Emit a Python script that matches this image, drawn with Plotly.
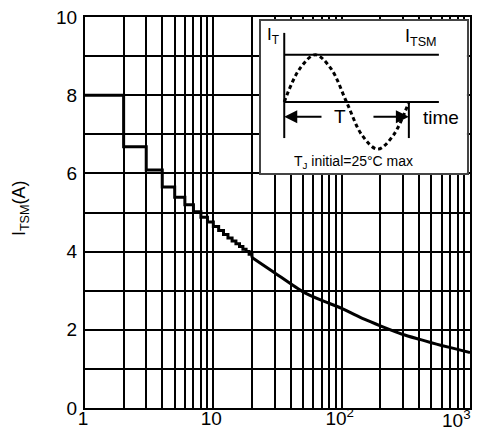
import math
import plotly.graph_objects as go

# ---- main data: surge current vs number of cycles ----
step_cycles = [1, 2, 3, 4, 5, 6, 7, 8, 9, 10, 11, 12, 13, 14, 15, 16, 17, 18, 19, 20]
step_current = [8.0, 6.68, 6.09, 5.65, 5.39, 5.2, 5.02, 4.88, 4.76, 4.64,
                4.54, 4.44, 4.35, 4.27, 4.2, 4.13, 4.06, 4.0, 3.93, 3.85]
smooth_cycles = [20, 30, 50, 70, 100, 150, 200, 300, 400, 500, 600, 800, 1000]
smooth_current = [3.85, 3.46, 2.97, 2.75, 2.55, 2.27, 2.1, 1.88, 1.76, 1.67, 1.6, 1.5, 1.42]

x_major = [1, 10, 100, 1000]
x_major_text = ["1", "10", "10<sup>2</sup>", "10<sup>3</sup>"]
x_minor = [2, 3, 4, 5, 6, 7, 8, 9, 20, 30, 40, 50, 60, 70, 80, 90,
           200, 300, 400, 500, 600, 700, 800, 900]
y_major = [0, 2, 4, 6, 8, 10]
y_major_text = ["0", "2", "4", "6", "8", "10"]
y_minor = [1, 3, 5, 7, 9]

# ---- inset schematic (units: period T = 1, amplitude = 1) ----
wave_t = [0, 0.125, 0.25, 0.375, 0.5, 0.625, 0.75, 0.875, 1.0]
wave_v = [0, 0.707, 1.0, 0.707, 0, -0.707, -1.0, -0.707, 0]

FONT = "Liberation Sans, Arial, Helvetica, sans-serif"

fig = go.Figure()
fig.add_trace(go.Scatter(x=step_cycles, y=step_current, mode="lines",
                         line=dict(color="black", width=3, shape="hv"),
                         showlegend=False, hoverinfo="skip"))
fig.add_trace(go.Scatter(x=smooth_cycles, y=smooth_current, mode="lines",
                         line=dict(color="black", width=3, shape="spline", smoothing=0.6),
                         showlegend=False, hoverinfo="skip"))
fig.add_trace(go.Scatter(x=wave_t, y=wave_v, mode="lines", xaxis="x2", yaxis="y2",
                         line=dict(color="black", width=3, dash="4px,3px", shape="spline"),
                         showlegend=False, hoverinfo="skip"))

ln = dict(color="black", width=2)
shapes = [
    dict(type="line", xref="x2", yref="y2", x0=0, x1=0, y0=1.465, y1=-0.765, line=ln),
    dict(type="line", xref="x2", yref="y2", x0=0, x1=1.241, y0=1, y1=1, line=ln),
    dict(type="line", xref="x2", yref="y2", x0=0, x1=1.241, y0=0, y1=0, line=ln),
    dict(type="line", xref="x2", yref="y2", x0=1, x1=1, y0=0, y1=-0.765, line=ln),
]


def label(text, x, y, size, ref="x2", **kw):
    return dict(text=text, xref=ref, yref=ref.replace("x", "y"), x=x, y=y,
                xanchor="center", yanchor="middle", showarrow=False,
                font=dict(size=size, color="black", family=FONT), **kw)


annotations = [
    dict(text="I<sub>TSM</sub>(A)", xref="paper", yref="paper", x=-0.1675, y=0.51,
         xanchor="center", yanchor="middle", textangle=-90, showarrow=False,
         font=dict(size=18, color="black", family=FONT)),
    # last x-axis label placed right-aligned so it stays inside the window
    dict(text=x_major_text[-1], xref="x", yref="paper", x=math.log10(x_major[-1]), y=0,
         xanchor="right", yanchor="middle", xshift=3, yshift=-11, showarrow=False,
         font=dict(size=19, color="black", family=FONT)),
    label("I<sub>T</sub>", -0.091, 1.40, 17),
    label("I<sub>TSM</sub>", 1.098, 1.36, 18),
    label("T", 0.446, -0.313, 19),
    label("time", 1.258, -0.339, 19),
    label("T<sub>J</sub> initial=25°C max", 0.559, -1.268, 14),
    dict(text="", xref="x2", yref="y2", axref="x2", ayref="y2", x=0, y=-0.313,
         ax=0.311, ay=-0.313, showarrow=True, arrowhead=2, arrowsize=1.3,
         arrowwidth=2, arrowcolor="black", standoff=0),
    dict(text="", xref="x2", yref="y2", axref="x2", ayref="y2", x=1, y=-0.313,
         ax=0.704, ay=-0.313, showarrow=True, arrowhead=2, arrowsize=1.3,
         arrowwidth=2, arrowcolor="black", standoff=0),
]

grid_minor = dict(showgrid=True, gridcolor="black", gridwidth=2, ticks="")

fig.update_layout(
    width=483, height=430,
    margin=dict(l=77, r=21, t=9, b=30),
    paper_bgcolor="white", plot_bgcolor="white",
    font=dict(family=FONT, size=19, color="black"),
    xaxis=dict(type="log", range=[0, 3], tickmode="array", tickvals=x_major[:-1],
               ticktext=x_major_text[:-1], automargin=False, ticklabeloverflow="allow",
               ticklabelstandoff=-8, ticklabelshift=-2,
               showgrid=True, gridcolor="black", gridwidth=2,
               minor=dict(tickmode="array", tickvals=x_minor, **grid_minor),
               showline=True, linecolor="black", linewidth=2, mirror=True,
               ticks="", tickfont=dict(size=19), zeroline=False),
    yaxis=dict(range=[0, 10], tickmode="array", tickvals=y_major,
               ticktext=y_major_text, automargin=False, ticklabeloverflow="allow",
               ticklabelstandoff=2,
               showgrid=True, gridcolor="black", gridwidth=2,
               minor=dict(tickmode="array", tickvals=y_minor, **grid_minor),
               showline=True, linecolor="black", linewidth=2, mirror=True,
               ticks="", tickfont=dict(size=19), zeroline=False),
    xaxis2=dict(domain=[0.457, 0.992], anchor="y2", range=[-0.187, 1.466],
                showgrid=False, zeroline=False, showticklabels=False, ticks="",
                automargin=False,
                showline=True, linecolor="#444", linewidth=1.5, mirror=True),
    yaxis2=dict(domain=[0.601, 0.99], anchor="x2", range=[-1.506, 1.719],
                showgrid=False, zeroline=False, showticklabels=False, ticks="",
                automargin=False,
                showline=True, linecolor="#444", linewidth=1.5, mirror=True),
    shapes=shapes,
    annotations=annotations,
)

fig.write_html("out.html")
